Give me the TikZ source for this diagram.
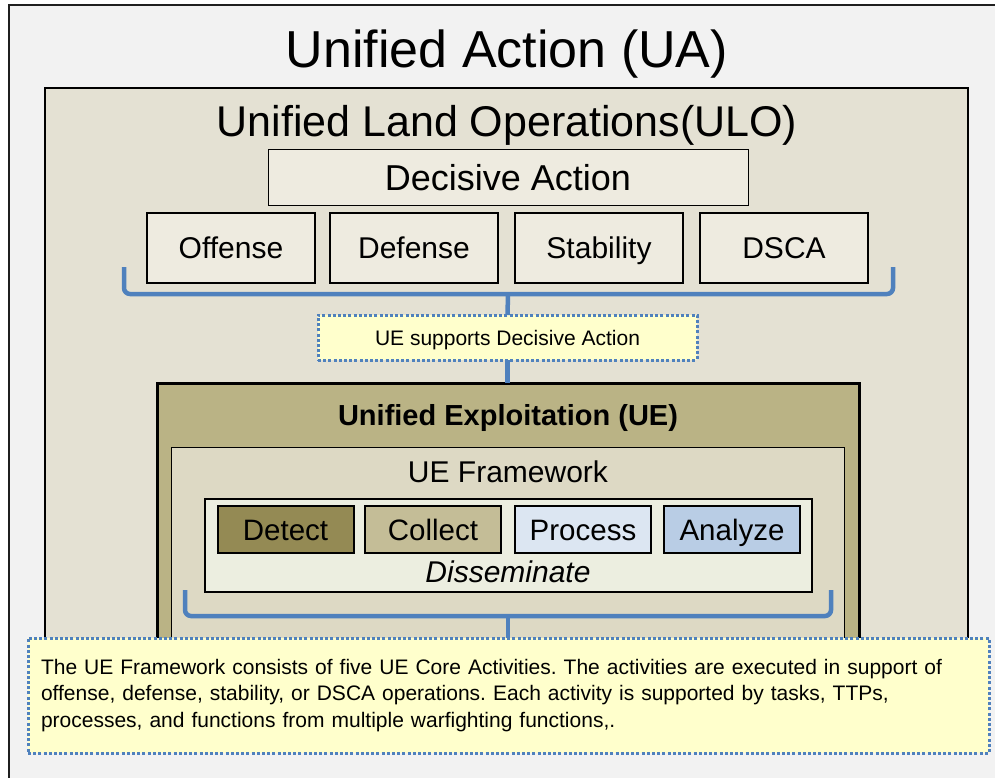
\documentclass[tikz,border=0pt]{standalone}
\usepackage{fontspec}
\setmainfont{Liberation Sans}
\definecolor{bgout}{HTML}{F2F2F2}
\definecolor{ulofill}{HTML}{E4E1D3}
\definecolor{boxfill}{HTML}{EEEBE0}
\definecolor{uefill}{HTML}{BAB385}
\definecolor{fwfill}{HTML}{DDD9C4}
\definecolor{innerfill}{HTML}{ECEEE0}
\definecolor{detectc}{HTML}{948A54}
\definecolor{collectc}{HTML}{C4BD97}
\definecolor{processc}{HTML}{DCE6F2}
\definecolor{analyzec}{HTML}{B9CDE5}
\definecolor{bluec}{HTML}{4F81BD}
\definecolor{notefill}{HTML}{FFFFCC}
\newcommand{\fs}[1]{\fontsize{#1}{#1}\selectfont}
\tikzset{
  x=1pt, y=-1pt,
  container/.style={draw=black, inner sep=0pt, outer sep=0pt, anchor=north west},
  txt/.style={text height=#1, text depth=0pt},
  opbox/.style={txt=21.6pt, draw=black, line width=2.5pt, fill=boxfill, inner sep=0pt, outer sep=0pt,
    minimum width=168pt, minimum height=70pt, font=\fs{30}},
  actbox/.style={txt=21.2pt, draw=black, line width=2pt, inner sep=0pt, outer sep=0pt,
    minimum width=136pt, minimum height=47pt, font=\fs{29.5}},
  bracketline/.style={draw=bluec, line width=4.5pt, rounded corners=6pt},
  stemline/.style={draw=bluec, line width=4.5pt},
  notebox/.style={draw=bluec, line width=3pt, dash pattern=on 3pt off 2.2pt, fill=notefill,
    inner sep=0pt, outer sep=0pt},
  label/.style={inner sep=0pt, outer sep=0pt}
}
\begin{document}
\frenchspacing
\begin{tikzpicture}
\useasboundingbox (0,0) rectangle (995,778);
% outer frame
\node[container, draw=black!88, line width=2pt, fill=bgout, minimum width=1000pt, minimum height=790pt] (ua) at (9,5) {};
\node[label, txt=37.4pt, font=\fs{52}] (uatitle) at (507,48.5) {Unified Action (UA)};
% ULO
\node[container, line width=2.5pt, fill=ulofill, minimum width=923pt, minimum height=612pt] (ulo) at (45,88) {};
\node[label, txt=31pt, font=\fs{43}] (ulotitle) at (507,121) {Unified Land Operations(ULO)};
\node[txt=26pt, draw=black, line width=1pt, fill=boxfill, inner sep=0pt, outer sep=0pt, minimum width=480pt, minimum height=55pt, font=\fs{36}] (da) at (508,177.5) {Decisive Action};
\node[opbox] (off) at (231,248) {Offense};
\node[opbox] (def) at (414,248) {Defense};
\node[opbox] (stab) at (599,248) {Stability};
\node[opbox] (dsca) at (784,248) {DSCA};
% bracket 1
\draw[bracketline] (124,267) -- (124,294) -- (893,294) -- (893,267);
\coordinate (b1) at (508,294);
\node[notebox, txt=15.1pt, minimum width=379pt, minimum height=45pt, font=\fs{21}] (ues) at (507.5,337.5) {UE supports Decisive Action};
\draw[stemline] (b1) -- (ues.north);
% UE
\node[container, line width=3pt, fill=uefill, minimum width=702pt, minimum height=317pt] (ue) at (157,383) {};
\draw[stemline] (ues.south) -- (ue.north -| ues.south);
\node[label, txt=20.9pt, font=\bfseries\fs{29}] (uetitle) at (508,415.5) {Unified Exploitation (UE)};
\node[container, line width=1pt, fill=fwfill, minimum width=673pt, minimum height=253pt] (fw) at (171,447) {};
\node[label, txt=21.6pt, font=\fs{30}] (fwtitle) at (508,472) {UE Framework};
\node[container, line width=2pt, fill=innerfill, minimum width=607pt, minimum height=93pt] (inner) at (205,499) {};
\node[actbox, fill=detectc] (detect) at (285.5,529.5) {Detect};
\node[actbox, fill=collectc] (collect) at (433,529.5) {Collect};
\node[actbox, fill=processc] (process) at (583,529.5) {Process};
\node[actbox, fill=analyzec] (analyze) at (732,529.5) {Analyze};
\node[label, txt=21.6pt, font=\itshape\fs{30}] (diss) at (508,572) {Disseminate};
% bracket 2
\draw[bracketline] (185,590) -- (185,616) -- (831,616) -- (831,590);
\coordinate (b2) at (508,616);
% note
\node[notebox, anchor=north west, minimum width=961pt, minimum height=115pt, text width=935pt, align=left, font=\fontsize{21}{26.5}\selectfont] (note) at (28,638) {The UE Framework consists of five UE Core Activities. The activities are executed in support of\\offense, defense, stability, or DSCA operations. Each activity is supported by tasks, TTPs,\\processes, and functions from multiple warfighting functions,.};
\draw[stemline] (b2) -- (b2 |- note.north);
\end{tikzpicture}
\end{document}
